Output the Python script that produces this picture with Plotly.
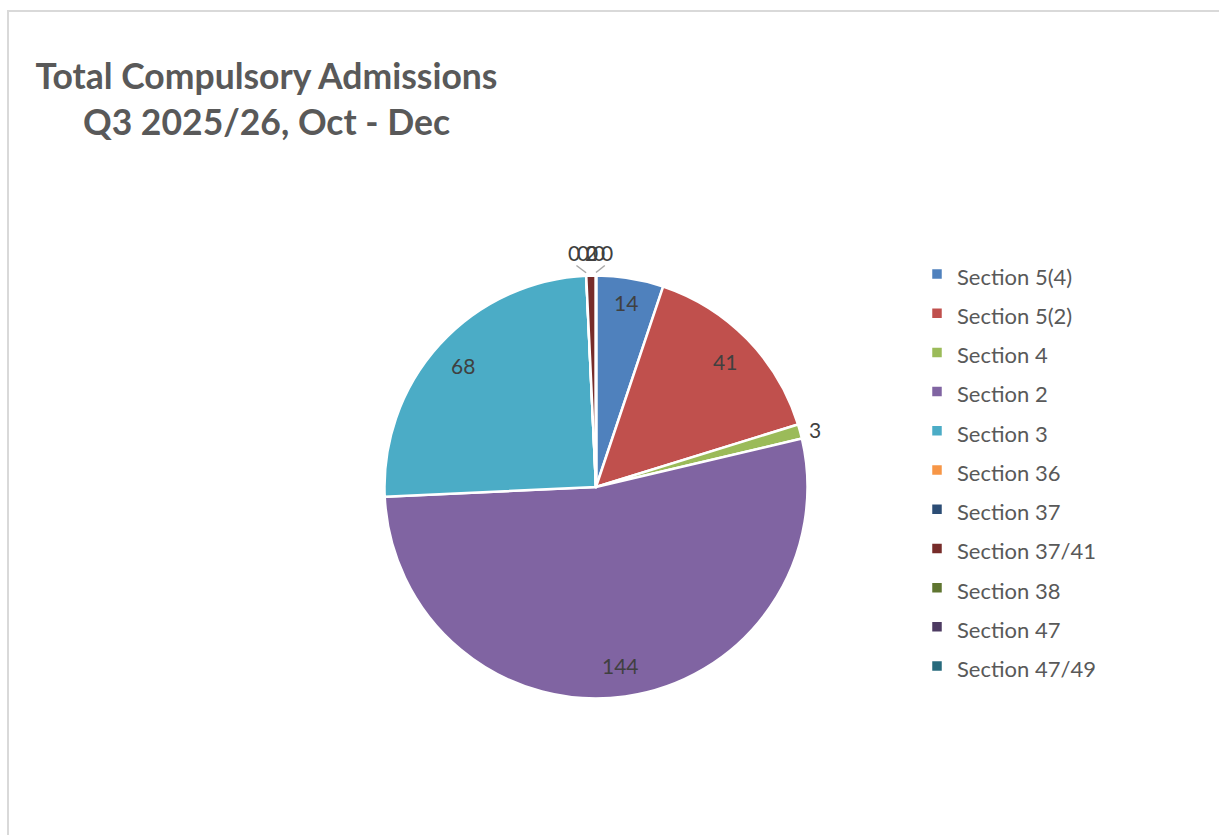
import math
import plotly.graph_objects as go

W, H = 1219, 835

# ---- data ----
labels = ["Section 5(4)", "Section 5(2)", "Section 4", "Section 2", "Section 3",
          "Section 36", "Section 37", "Section 37/41", "Section 38", "Section 47",
          "Section 47/49"]
values = [14, 41, 3, 144, 68, 0, 0, 2, 0, 0, 0]
colors = ["#4F81BD", "#C0504D", "#9BBB59", "#8064A2", "#4BACC6", "#F79646",
          "#2C4D75", "#772C2A", "#5F7530", "#4D3B62", "#276A7C"]
title_lines = ["Total Compulsory Admissions", "Q3 2025/26, Oct - Dec"]

# ---- layout constants (pixels) ----
CX, CY, R = 596.0, 487.0, 211.5
FONT = "Lato"
TEXT_GREY = "#595959"
LABEL_GREY = "#404040"
LABEL_SIZE = 21


def px(x):
    return x / W


def py(y):
    return 1 - y / H


# label placement styles
inside_factor = {"Section 5(4)": 0.885}
outside_labels = {"Section 4"}
cluster_nudge = {"Section 36": -12.2, "Section 37": -3.2, "Section 37/41": 0.0,
                 "Section 38": -4.0, "Section 47": 3.0, "Section 47/49": 11.0}
CLUSTER_Y = CY - R - 23

fig = go.Figure()
fig.add_trace(go.Pie(
    labels=[f'<span style="font-size:22px">{l}</span>' for l in labels],
    values=values,
    customdata=labels,
    hovertemplate="%{customdata}: %{value}<extra></extra>",
    sort=False,
    direction="clockwise",
    rotation=0,
    textinfo="none",
    marker=dict(colors=colors, line=dict(color="white", width=2.5)),
    domain=dict(x=[px(CX - R), px(CX + R)], y=[py(CY + R), py(CY - R)]),
    showlegend=True,
))

total = sum(values)
annotations = []
shapes = []
cum = 0.0
slice_angles = {}
label_font = dict(family=FONT, size=LABEL_SIZE, color=LABEL_GREY)
for lab, v in zip(labels, values):
    mid = (cum + v / 2) / total * 2 * math.pi
    cum += v
    slice_angles[lab] = mid
    if lab in cluster_nudge:
        continue
    if lab in outside_labels:
        rr = R + 7
        anchor = "left"
    else:
        rr = R * inside_factor.get(lab, 0.85)
        anchor = "center"
    x = CX + rr * math.sin(mid)
    y = CY - rr * math.cos(mid)
    annotations.append(dict(x=px(x), y=py(y), xref="paper", yref="paper",
                            text=str(v), showarrow=False, xanchor=anchor,
                            yanchor="middle", font=label_font))

# labels for the tiny slices at the top, spread sideways with leader lines
cluster_pos = {}
for lab, v in zip(labels, values):
    if lab not in cluster_nudge:
        continue
    mid = slice_angles[lab]
    x = CX + R * math.sin(mid) + cluster_nudge[lab]
    cluster_pos[lab] = x
    annotations.append(dict(x=px(x), y=py(CLUSTER_Y), xref="paper", yref="paper",
                            text=str(v), showarrow=False, xanchor="center",
                            yanchor="middle", font=label_font))

for lab in ("Section 36", "Section 47/49"):
    mid = slice_angles[lab]
    x0 = CX + (R + 3) * math.sin(mid)
    y0 = CY - (R + 3) * math.cos(mid)
    x1 = 0.8 * cluster_pos[lab] + 0.2 * x0
    y1 = CLUSTER_Y + 13
    shapes.append(dict(type="line", xref="paper", yref="paper",
                       x0=px(x0), y0=py(y0), x1=px(x1), y1=py(y1),
                       line=dict(color="#A6A6A6", width=1.5)))

# outer chart frame
shapes.append(dict(type="rect", xref="paper", yref="paper",
                   x0=px(8), y0=py(H + 10), x1=px(W + 10), y1=py(11),
                   line=dict(color="#D9D9D9", width=2), fillcolor="rgba(0,0,0,0)",
                   layer="below"))

fig.update_layout(
    width=W, height=H,
    margin=dict(l=0, r=0, t=0, b=0),
    paper_bgcolor="white",
    plot_bgcolor="white",
    title=dict(
        text="<br>".join(title_lines),
        x=px(266.5), xanchor="center", xref="paper",
        y=py(88.5), yanchor="top", yref="paper",
        font=dict(family=FONT, size=35.5, color=TEXT_GREY, weight="bold"),
    ),
    legend=dict(
        x=px(917), xanchor="left",
        y=py(249.4), yanchor="top",
        font=dict(family=FONT, size=27.85, color=TEXT_GREY),
        bgcolor="rgba(0,0,0,0)",
        traceorder="normal",
    ),
    annotations=annotations,
    shapes=shapes,
)

fig.write_html("out.html")
